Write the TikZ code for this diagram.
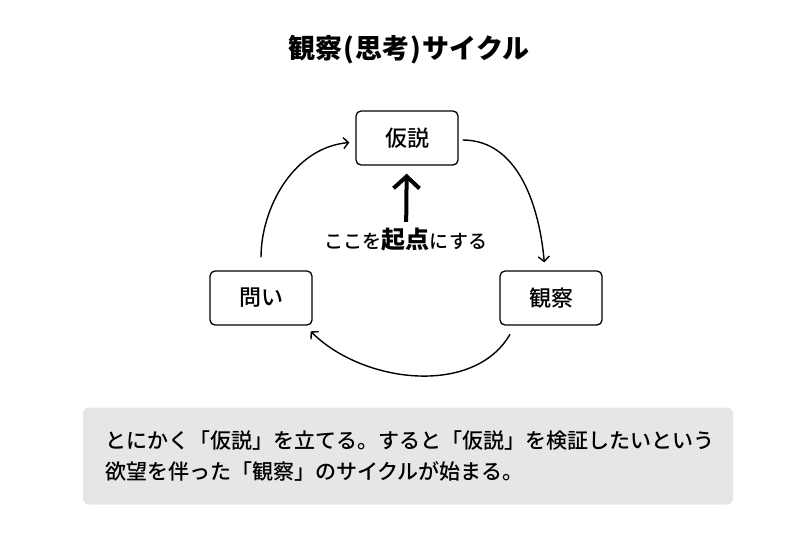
\documentclass[tikz,border=0pt]{standalone}
\usepackage{xcolor}
\usepackage{fontspec}
\setmainfont{Noto Sans CJK JP}
\newfontfamily\jpmedium{Noto Sans CJK JP Medium}
\usetikzlibrary{arrows, arrows.meta, positioning}

\definecolor{notegray}{RGB}{230,230,230}

\begin{document}
\begin{tikzpicture}[
    x=1pt, y=1pt,
    box/.style={rectangle, draw, line width=1.3pt, rounded corners=5pt, minimum width=102pt, minimum height=54pt, font=\jpmedium\fontsize{22}{25}\selectfont},
    arrow/.style={-{Straight Barb[length=5pt, width=11pt]}, line width=1.4pt}
]
\useasboundingbox (0,0) rectangle (800,-539);

\node[font=\fontsize{27}{30}\selectfont\bfseries] (title) at (409,-50) {観察\kern1pt(\kern1pt思考\kern1pt)\kern2ptサイクル};

\node[box] (kasetsu) at (407,-138) {仮説};
\node[box] (toi) at (261,-298) {問い};
\node[box] (kansatsu) at (551,-298) {観察};

\node[font=\jpmedium\fontsize{19}{22}\selectfont] (start) at (406,-240) {ここを{\fontsize{24}{26}\selectfont\bfseries 起点}にする};

\node[fill=notegray, rounded corners=6pt, text width=606pt, inner xsep=22pt, minimum height=97pt, align=left, font=\jpmedium\fontsize{21}{31}\selectfont] (note) at (408,-456)
    {とにかく「仮説」を立てる。すると「仮説」を検証したいという\\欲望を伴った「観察」のサイクルが始まる。};

\draw[-{Straight Barb[length=12pt, width=26pt]}, line width=4pt, shorten <=3pt, shorten >=8pt] (start) -- (kasetsu);
\draw[arrow, shorten <=13pt, shorten >=6pt] (toi.north) to[out=90, in=185] ([yshift=-4pt]kasetsu.west);
\draw[arrow, shorten <=4pt, shorten >=8pt] ([yshift=-2pt]kasetsu.east) to[out=0, in=95] ([xshift=-6pt]kansatsu.north);
\draw[arrow, shorten <=10pt, shorten >=8pt] ([xshift=-36pt]kansatsu.south) to[out=-120, in=-45] ([xshift=44pt]toi.south);
\end{tikzpicture}
\end{document}
